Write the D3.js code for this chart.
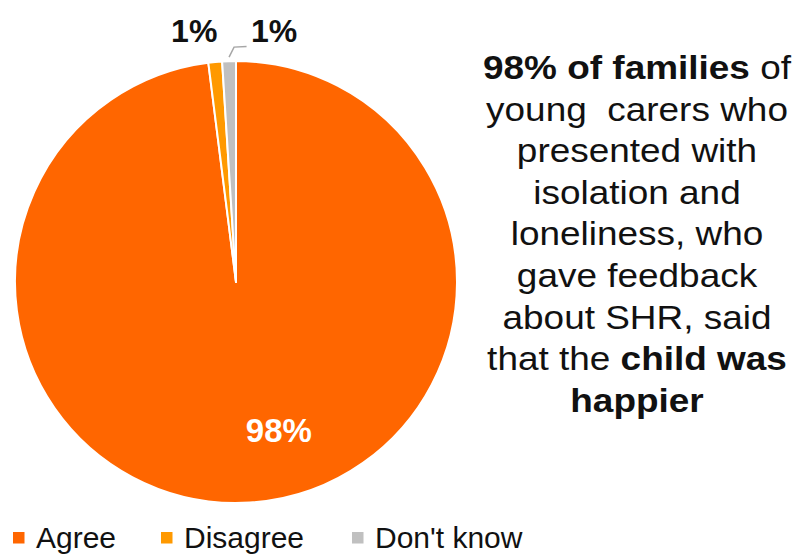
<html>
<head>
<meta charset="utf-8">
<script src="https://d3js.org/d3.v7.min.js"></script>
<style>
  body { margin: 0; background: #fff; }
  text { font-family: Arial, "Liberation Sans", sans-serif; }
</style>
</head>
<body>
<div id="chart"></div>
<script>
// data
var categories = ["Agree", "Disagree", "Don't know"];
var values = [98, 1, 1];
var colors = ["#ff6600", "#ff9900", "#c0c0c0"];

// text beside the pie: each line is a list of [text, bold] pieces
var noteLines = [
  [["98% of families", true], [" of", false]],
  [["young  carers who", false]],
  [["presented with", false]],
  [["isolation and", false]],
  [["loneliness, who", false]],
  [["gave feedback", false]],
  [["about SHR, said", false]],
  [["that the ", false], ["child was", true]],
  [["happier", true]]
];

var W = 803, H = 554;
var svg = d3.select("#chart").append("svg")
  .attr("width", W).attr("height", H);

var cx = 236, cy = 282, r = 221;

var pie = d3.pie().sort(null).value(function(d) { return d; });
var arcs = pie(values);
var arc = d3.arc().innerRadius(0).outerRadius(r);

var g = svg.append("g").attr("transform", "translate(" + cx + "," + cy + ")");

g.selectAll("path.slice")
  .data(arcs)
  .enter().append("path")
    .attr("class", "slice")
    .attr("d", arc)
    .attr("fill", function(d, i) { return colors[i]; })
    .attr("stroke", "#fff")
    .attr("stroke-width", 2)
    .attr("stroke-linejoin", "round");

// big label inside
var inner = d3.arc().innerRadius(r * 0.71).outerRadius(r * 0.71);
var c0 = inner.centroid(arcs[0]);
g.append("text")
  .attr("x", c0[0] + 33)
  .attr("y", c0[1] - 8.5)
  .attr("dy", "0.35em")
  .attr("text-anchor", "middle")
  .attr("fill", "#fff")
  .attr("font-weight", "bold")
  .attr("font-size", 33)
  .text(Math.round(values[0]) + "%");

// small labels outside
var edge = d3.arc().innerRadius(r).outerRadius(r);
var c1 = edge.centroid(arcs[1]);
g.append("text")
  .attr("x", c1[0] - 21)
  .attr("y", c1[1] - 31)
  .attr("dy", "0.35em")
  .attr("text-anchor", "middle")
  .attr("fill", "#111")
  .attr("font-weight", "bold")
  .attr("font-size", 32)
  .text(Math.round(values[1]) + "%");

var c2 = edge.centroid(arcs[2]);
g.append("polyline")
  .attr("points", [[c2[0], c2[1] - 4], [c2[0] + 5, c2[1] - 14], [c2[0] + 17.5, c2[1] - 14.5]].join(" "))
  .attr("fill", "none")
  .attr("stroke", "#a6a6a6")
  .attr("stroke-width", 1.5);
g.append("text")
  .attr("x", c2[0] + 22)
  .attr("y", c2[1] - 30.5)
  .attr("dy", "0.35em")
  .attr("text-anchor", "start")
  .attr("fill", "#111")
  .attr("font-weight", "bold")
  .attr("font-size", 32)
  .text(Math.round(values[2]) + "%");

// note text (slightly widened, as in the source)
var note = svg.append("text")
  .attr("transform", "translate(637,0) scale(1.12,1)")
  .attr("text-anchor", "middle")
  .attr("font-size", 33)
  .attr("fill", "#111");
noteLines.forEach(function(line, i) {
  var t = note.append("tspan")
    .attr("x", 0)
    .attr("y", 79 + i * 41.6);
  line.forEach(function(p) {
    t.append("tspan")
      .attr("font-weight", p[1] ? "bold" : "normal")
      .style("white-space", "pre")
      .text(p[0]);
  });
});

// legend
var legX = [13, 161, 352];
var leg = svg.selectAll("g.leg")
  .data(categories)
  .enter().append("g")
    .attr("class", "leg")
    .attr("transform", function(d, i) { return "translate(" + legX[i] + ",532)"; });
leg.append("rect")
  .attr("width", 11.5).attr("height", 11.5)
  .attr("fill", function(d, i) { return colors[i]; });
leg.append("text")
  .attr("x", 23).attr("y", 16)
  .attr("font-size", 30)
  .attr("fill", "#111")
  .text(function(d) { return d; });
</script>
</body>
</html>
